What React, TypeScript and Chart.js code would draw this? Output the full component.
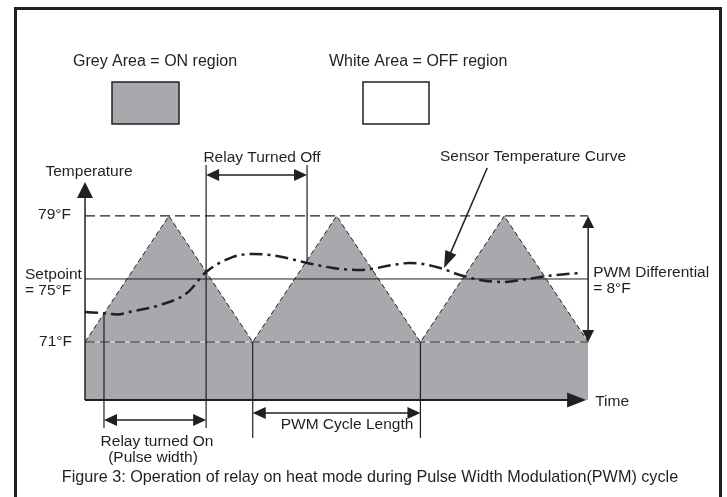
import React, { useEffect, useRef } from "react";
import { Chart, registerables } from "chart.js";
Chart.register(...registerables);

// ---- scale ranges (time units: one PWM cycle = 10) ----
const TIME_MIN = -5.07;
const TIME_MAX = 38.28;
const TEMP_MIN = 61.16;
const TEMP_MAX = 92.71;
const AXIS_BASE = 67.32; // temperature level of the time axis
const AXIS_TOP = 81.16; // tip of temperature axis
const AXIS_END = 29.88; // tip of time axis

// ---- heater ON/OFF triangle wave ----
const cycleTimes = [0, 5, 10, 15, 20, 25, 30];
const cycleTemps = [71, 79, 71, 79, 71, 79, 71];

// ---- reference levels ----
const lowLimit = 71;
const highLimit = 79;
const setpoint = 75;

// ---- sensor temperature curve ----
const sensorTimes = [0, 1.19, 1.91, 2.86, 4.47, 6.08, 7.22, 8.83, 10.02, 11.45, 13.24, 14.79, 16.4, 18.37, 19.38, 21.17, 22.36, 23.55, 24.93, 26.36, 27.55, 28.74, 29.64];
const sensorTemps = [72.9, 72.82, 72.75, 72.95, 73.35, 74.11, 75.44, 76.4, 76.59, 76.46, 76.02, 75.7, 75.57, 75.89, 76.02, 75.7, 75.25, 74.94, 74.81, 75.0, 75.19, 75.32, 75.38];

// ---- marker (relay switching) lines ----
const markerTimes = [1.13, 7.22, 13.24, 10, 20];
const markerTops = [72.8, 82.24, 82.24, 71, 71];
const markerBottoms = [65.54, 65.54, 76.1, 64.9, 64.9];

// ---- y labels ----
const yTickValues = [79, 75, 71];
const yTickLabels = [["79°F"], ["Setpoint", "= 75°F"], ["71°F"]];

const INK = "#231f20";
const GREY = "#a7a9ac";
const FONT = '"Liberation Sans", Arial, Helvetica, sans-serif';

function head(ctx: CanvasRenderingContext2D, tx: number, ty: number, ang: number, len: number, wid: number) {
  ctx.save();
  ctx.translate(tx, ty);
  ctx.rotate(ang);
  ctx.beginPath();
  ctx.moveTo(0, 0);
  ctx.lineTo(-len, -wid / 2);
  ctx.lineTo(-len, wid / 2);
  ctx.closePath();
  ctx.fill();
  ctx.restore();
}

function text(ctx: CanvasRenderingContext2D, s: string, x: number, y: number, align: CanvasTextAlign, size = 15.5) {
  ctx.font = `${size}px ${FONT}`;
  ctx.textAlign = align;
  ctx.textBaseline = "middle";
  ctx.fillStyle = INK;
  ctx.fillText(s, x, y);
}

const decorPlugin = {
  id: "decor",
  beforeDraw(chart: any) {
    const ctx = chart.ctx as CanvasRenderingContext2D;
    ctx.save();
    ctx.fillStyle = "#ffffff";
    ctx.fillRect(0, 0, chart.width, chart.height);
    ctx.restore();
  },
  afterDatasetsDraw(chart: any) {
    const ctx = chart.ctx as CanvasRenderingContext2D;
    const xs = chart.scales.x;
    const ys = chart.scales.y;
    const X = (t: number) => xs.getPixelForValue(t);
    const Y = (v: number) => ys.getPixelForValue(v);
    ctx.save();
    ctx.fillStyle = INK;
    ctx.strokeStyle = INK;

    // outer frame
    ctx.lineWidth = 3;
    ctx.strokeRect(15.5, 8.5, 705, 520);

    // legend
    text(ctx, "Grey Area = ON region", 73, 62, "left", 16);
    text(ctx, "White Area = OFF region", 329, 62, "left", 16);
    ctx.lineWidth = 1.5;
    ctx.fillStyle = GREY;
    ctx.fillRect(112, 82, 67, 42);
    ctx.strokeRect(112, 82, 67, 42);
    ctx.fillStyle = "#ffffff";
    ctx.fillRect(363, 82, 66, 42);
    ctx.strokeRect(363, 82, 66, 42);
    ctx.fillStyle = INK;

    // axes
    const x0 = X(0);
    const yb = Y(AXIS_BASE);
    ctx.lineWidth = 2;
    ctx.beginPath();
    ctx.moveTo(x0, yb);
    ctx.lineTo(X(AXIS_END) - 10, yb);
    ctx.stroke();
    head(ctx, X(AXIS_END), yb, 0, 19, 15);
    ctx.lineWidth = 1.5;
    ctx.beginPath();
    ctx.moveTo(x0, yb);
    ctx.lineTo(x0, Y(AXIS_TOP) + 10);
    ctx.stroke();
    head(ctx, x0, Y(AXIS_TOP), -Math.PI / 2, 16, 16);
    text(ctx, "Temperature", 89, 172, "center");
    text(ctx, "Time", X(AXIS_END) + 9, yb + 2, "left");

    // y labels
    text(ctx, yTickLabels[0][0], x0 - 14, Y(yTickValues[0]) - 1, "right");
    text(ctx, yTickLabels[1][0], 25, Y(yTickValues[1]) - 4, "left");
    text(ctx, yTickLabels[1][1], 25, Y(yTickValues[1]) + 12, "left");
    text(ctx, yTickLabels[2][0], x0 - 13, Y(yTickValues[2]), "right");

    // double arrows
    const hArrow = (t1: number, t2: number, v: number) => {
      const a = X(t1), b = X(t2), y = Y(v);
      ctx.lineWidth = 1.5;
      ctx.beginPath();
      ctx.moveTo(a + 6, y);
      ctx.lineTo(b - 6, y);
      ctx.stroke();
      head(ctx, a, y, Math.PI, 13, 12);
      head(ctx, b, y, 0, 13, 12);
    };
    hArrow(markerTimes[1], markerTimes[2], 81.6);
    hArrow(markerTimes[0], markerTimes[1], 66.05);
    hArrow(markerTimes[3], markerTimes[4], 66.49);

    // PWM differential arrow
    const xd = X(cycleTimes[cycleTimes.length - 1]);
    ctx.lineWidth = 1.5;
    ctx.beginPath();
    ctx.moveTo(xd, Y(highLimit) + 6);
    ctx.lineTo(xd, Y(lowLimit) - 6);
    ctx.stroke();
    head(ctx, xd, Y(highLimit), -Math.PI / 2, 12, 12);
    head(ctx, xd, Y(lowLimit), Math.PI / 2, 12, 12);
    text(ctx, "PWM Differential", xd + 5, Y(setpoint) - 6, "left");
    text(ctx, "= 8°F", xd + 5, Y(setpoint) + 10, "left");

    // sensor curve pointer
    const sx = X(23.98), sy = Y(82.05), tx = X(21.41), ty = Y(75.7);
    const ang = Math.atan2(ty - sy, tx - sx);
    ctx.lineWidth = 1.5;
    ctx.beginPath();
    ctx.moveTo(sx, sy);
    ctx.lineTo(tx - Math.cos(ang) * 8, ty - Math.sin(ang) * 8);
    ctx.stroke();
    head(ctx, tx, ty, ang, 17, 12);

    // annotation texts
    text(ctx, "Relay Turned Off", 262, 158, "center");
    text(ctx, "Sensor Temperature Curve", 533, 157, "center");
    text(ctx, "PWM Cycle Length", 347, 425, "center");
    text(ctx, "Relay turned On", 157, 442, "center");
    text(ctx, "(Pulse width)", 153, 458, "center");
    text(ctx, "Figure 3: Operation of relay on heat mode during Pulse Width Modulation(PWM) cycle", 370, 478, "center", 16.2);
    ctx.restore();
  },
};

function pts(xs: number[], ys: number[]) {
  return xs.map((x, i) => ({ x, y: ys[i] }));
}

export default function App() {
  const ref = useRef<HTMLCanvasElement | null>(null);
  useEffect(() => {
    if (!ref.current) return;
    const spanT = [0, cycleTimes[cycleTimes.length - 1]];
    const markerSets = markerTimes.map((t, i) => ({
      data: [{ x: t, y: markerTops[i] }, { x: t, y: markerBottoms[i] }],
      borderColor: INK,
      borderWidth: 1.2,
      pointRadius: 0,
      fill: false,
      order: 2,
    }));
    const chart = new Chart(ref.current, {
      type: "line",
      data: {
        datasets: [
          {
            data: pts(cycleTimes, cycleTemps),
            borderColor: INK,
            borderWidth: 1,
            borderDash: [5, 3],
            backgroundColor: GREY,
            fill: { value: AXIS_BASE },
            pointRadius: 0,
            tension: 0,
            order: 10,
          },
          {
            data: pts(spanT, [lowLimit, lowLimit]),
            borderColor: "#e8e8e8",
            borderWidth: 1,
            pointRadius: 0,
            fill: false,
            order: 9,
          },
          {
            data: pts(spanT, [lowLimit, lowLimit]),
            borderColor: INK,
            borderWidth: 1.2,
            borderDash: [10, 5],
            pointRadius: 0,
            fill: false,
            order: 8,
          },
          {
            data: pts(spanT, [highLimit, highLimit]),
            borderColor: INK,
            borderWidth: 1.2,
            borderDash: [10, 5],
            pointRadius: 0,
            fill: false,
            order: 7,
          },
          {
            data: pts(spanT, [setpoint, setpoint]),
            borderColor: INK,
            borderWidth: 1,
            pointRadius: 0,
            fill: false,
            order: 6,
          },
          {
            data: pts(sensorTimes, sensorTemps),
            borderColor: INK,
            borderWidth: 2.5,
            borderDash: [13, 5, 3, 5],
            cubicInterpolationMode: "monotone",
            pointRadius: 0,
            fill: false,
            order: 5,
          },
          ...markerSets,
        ] as any,
      },
      options: {
        responsive: false,
        animation: false,
        events: [],
        layout: { padding: 0 },
        plugins: { legend: { display: false }, tooltip: { enabled: false } },
        scales: {
          x: { type: "linear", min: TIME_MIN, max: TIME_MAX, display: false },
          y: { type: "linear", min: TEMP_MIN, max: TEMP_MAX, display: false },
        },
      },
      plugins: [decorPlugin],
    });
    return () => chart.destroy();
  }, []);
  return (
    <div style={{ position: "absolute", left: 0, top: 0, width: 727, height: 497, background: "#fff" }}>
      <canvas ref={ref} width={727} height={497} style={{ display: "block" }} />
    </div>
  );
}
